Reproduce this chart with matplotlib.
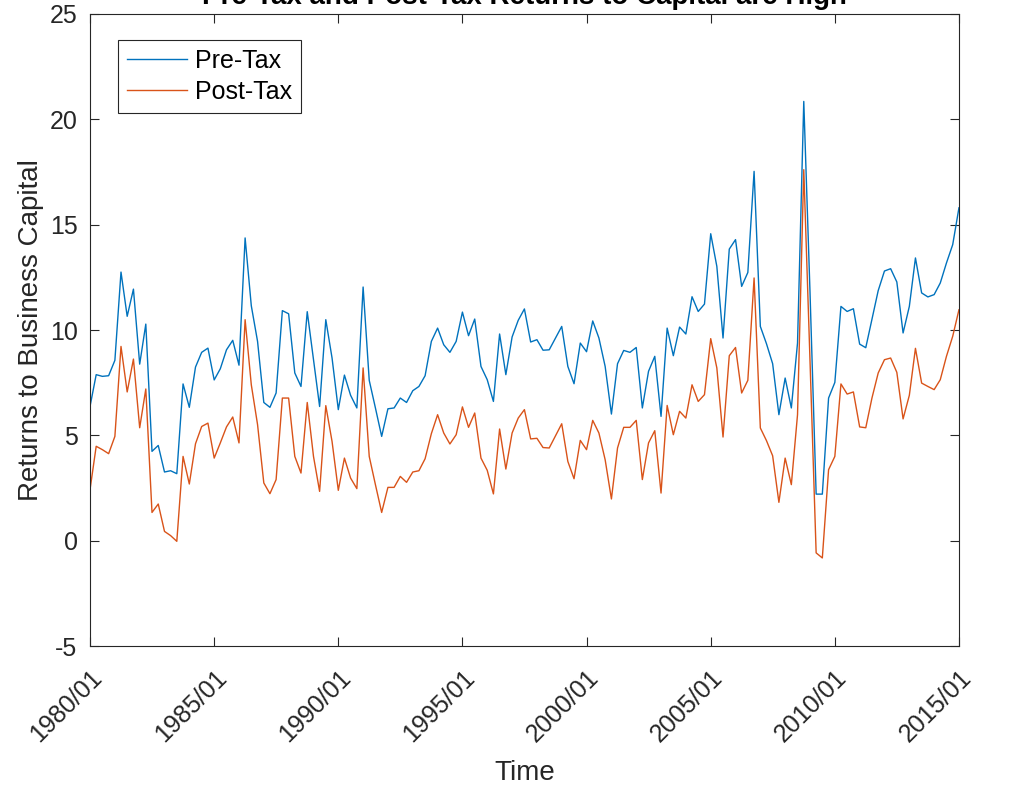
import numpy as np
import pandas as pd
import matplotlib
matplotlib.use("Agg")
from matplotlib import pyplot as plt
import matplotlib.dates as mdates

plt.rcParams['font.family'] = ['Liberation Sans', 'DejaVu Sans']
plt.rcParams['axes.unicode_minus'] = False

# quarterly, 1980Q1 .. 2015Q1
dates = pd.date_range("1980-01-01", periods=141, freq="QS")

pre_tax = [
    6.37, 7.88, 7.80, 7.83, 8.56, 12.75, 10.65, 11.94, 8.38, 10.28,
    4.24, 4.52, 3.26, 3.32, 3.18, 7.44, 6.33, 8.24, 8.94, 9.14,
    7.63, 8.16, 9.06, 9.51, 8.33, 14.37, 11.15, 9.46, 6.56, 6.33,
    7.01, 10.92, 10.77, 7.96, 7.32, 10.87, 8.59, 6.37, 10.49, 8.67,
    6.22, 7.86, 6.90, 6.30, 12.04, 7.61, 6.30, 4.95, 6.26, 6.30,
    6.77, 6.56, 7.12, 7.32, 7.83, 9.46, 10.09, 9.30, 8.94, 9.46,
    10.85, 9.73, 10.52, 8.27, 7.64, 6.61, 9.81, 7.88, 9.67, 10.46,
    11.00, 9.43, 9.54, 9.04, 9.06, 9.62, 10.17, 8.27, 7.45, 9.38,
    8.97, 10.43, 9.62, 8.27, 6.01, 8.40, 9.03, 8.94, 9.17, 6.30,
    8.04, 8.75, 5.90, 10.09, 8.78, 10.14, 9.81, 11.58, 10.88, 11.23,
    14.57, 13.02, 9.62, 13.84, 14.29, 12.07, 12.73, 17.53, 10.17, 9.35,
    8.40, 5.98, 7.72, 6.30, 9.38, 20.85, 11.76, 2.21, 2.21, 6.77,
    7.51, 11.12, 10.88, 11.01, 9.33, 9.16, 10.52, 11.87, 12.80, 12.91,
    12.28, 9.86, 11.12, 13.42, 11.76, 11.57, 11.68, 12.23, 13.18, 14.05,
    15.80,
]

post_tax = [
    2.42, 4.48, 4.32, 4.13, 4.95, 9.22, 7.06, 8.62, 5.36, 7.20,
    1.34, 1.74, 0.44, 0.24, -0.03, 4.00, 2.69, 4.60, 5.42, 5.58,
    3.92, 4.64, 5.40, 5.87, 4.64, 10.49, 7.40, 5.51, 2.74, 2.23,
    2.90, 6.77, 6.77, 4.00, 3.21, 6.56, 4.00, 2.34, 6.41, 4.71,
    2.39, 3.92, 2.97, 2.47, 8.20, 4.00, 2.66, 1.34, 2.53, 2.53,
    3.05, 2.77, 3.26, 3.32, 3.89, 5.08, 5.98, 5.11, 4.59, 5.03,
    6.35, 5.38, 6.06, 3.92, 3.34, 2.22, 5.30, 3.40, 5.11, 5.82,
    6.22, 4.83, 4.86, 4.42, 4.40, 4.98, 5.55, 3.76, 2.94, 4.76,
    4.32, 5.71, 5.11, 3.84, 1.98, 4.40, 5.38, 5.38, 5.71, 2.90,
    4.64, 5.22, 2.26, 6.42, 5.03, 6.14, 5.82, 7.40, 6.61, 6.93,
    9.59, 8.20, 4.92, 8.78, 9.17, 7.01, 7.61, 12.47, 5.35, 4.75,
    4.03, 1.82, 3.92, 2.66, 5.98, 17.61, 8.51, -0.58, -0.82, 3.37,
    4.00, 7.44, 6.96, 7.06, 5.40, 5.36, 6.77, 7.96, 8.59, 8.67,
    7.99, 5.78, 6.90, 9.13, 7.48, 7.32, 7.17, 7.64, 8.75, 9.70,
    10.96,
]

xticks = pd.date_range("1980-01-01", "2015-01-01", freq="5YS")
yticks = [-5, 0, 5, 10, 15, 20, 25]

grey = "#262626"

fig = plt.figure(figsize=(10.09, 7.86), dpi=100)
ax = fig.add_axes([0.0892, 0.1781, 0.8612, 0.8041])

ax.plot(dates, pre_tax, color="#0072BD", lw=1.0, label="Pre-Tax")
ax.plot(dates, post_tax, color="#D95319", lw=1.0, label="Post-Tax")

ax.set_xlim(dates[0], dates[-1])
ax.set_ylim(-5, 25)
ax.set_yticks(yticks)
ax.set_xticks(xticks)
ax.xaxis.set_major_formatter(mdates.DateFormatter("%Y/%m"))

ax.tick_params(direction="in", length=6.5, width=0.8, colors=grey,
               labelsize=18, top=True, right=True)
ax.tick_params(axis="y", pad=9)
ax.tick_params(axis="x", pad=14)
for lab in ax.get_xticklabels():
    lab.set_rotation(45)
    lab.set_ha("right")
    lab.set_va("top")
    lab.set_rotation_mode("anchor")
for s in ax.spines.values():
    s.set_color(grey)
    s.set_linewidth(0.8)

ax.set_xlabel("Time", fontsize=20, color=grey, labelpad=10)
ax.set_ylabel("Returns to Business Capital", fontsize=20, color=grey, labelpad=4)
ax.set_title("Pre-Tax and Post-Tax Returns to Capital are High",
             fontsize=20, fontweight="bold", pad=7)

leg = ax.legend(loc="upper left", bbox_to_anchor=(0.032, 0.959), borderaxespad=0,
                fontsize=18, fancybox=False, framealpha=1, edgecolor=grey,
                handlelength=2.4, handletextpad=0.35, borderpad=0.35,
                labelspacing=0.3)
leg.get_frame().set_linewidth(0.8)

fig.savefig("out.png", dpi=100)
